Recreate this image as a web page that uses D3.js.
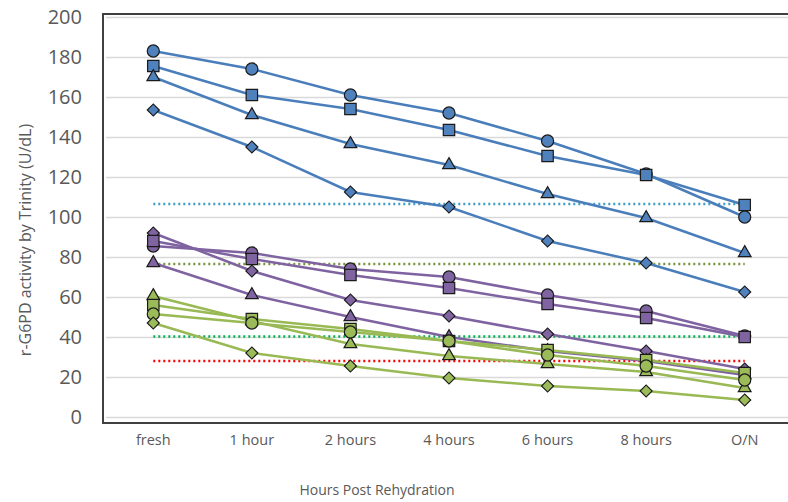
<!DOCTYPE html>
<html>
<head>
<meta charset="utf-8">
<script src="https://cdn.jsdelivr.net/npm/d3@7"></script>
<style>
  body { margin: 0; background: #fff; }
  svg { display: block; font-family: "Open Sans", "Liberation Sans", sans-serif; }
</style>
</head>
<body>
<div id="chart"></div>
<script>
// categories on the x axis
var categories = ["fresh", "1 hour", "2 hours", "4 hours", "6 hours", "8 hours", "O/N"];
var yTicks = [0, 20, 40, 60, 80, 100, 120, 140, 160, 180, 200];

// blue group
var blueCircle   = [183, 174, 161, 152, 138, 121.5, 100];
var blueSquare   = [175.5, 161, 154, 143.5, 130.5, 121, 106];
var blueTriangle = [170, 151, 136.5, 126, 111.5, 99.5, 82];
var blueDiamond  = [153.5, 135, 112.5, 105, 88, 77, 62.5];

// purple group
var purpleDiamond  = [92, 73, 58.5, 50.5, 41.5, 33, 24];
var purpleCircle   = [85.5, 82, 74, 70, 61, 53, 40.5];
var purpleSquare   = [88, 79, 71, 64.5, 56.5, 49.5, 40];
var purpleTriangle = [77, 61, 50, 40, 33, 28, 21];

// green group
var greenTriangle = [60.5, 48, 36.5, 30.5, 26.5, 22.5, 14.5];
var greenSquare   = [56, 49, 44, 38, 33.5, 28.5, 22];
var greenCircle   = [51.5, 47, 42.5, 38, 31, 25.5, 18.5];
var greenDiamond  = [47, 32, 25.5, 19.5, 15.5, 13, 8.5];

// dotted reference levels
var refValues = [106.5, 76.5, 40.3, 28];
var refColors = ["#3f9cc4", "#77933c", "#00b050", "#ff0000"];

var width = 788, height = 502;
var svg = d3.select("#chart").append("svg")
	.attr("width", width)
	.attr("height", height);

//- scales
var x = d3.scaleBand().domain(categories).range([104, 794]);
var y = d3.scaleLinear().domain([0, 200]).range([417, 17]);
var cx = function(c) { return x(c) + x.bandwidth() / 2; };

// gridlines
svg.append("g")
	.attr("transform", "translate(106,0)")
	.call(d3.axisLeft(y).tickValues(yTicks).tickSize(-(width - 106)).tickFormat(""))
	.call(function(g) {
		g.select(".domain").remove();
		g.selectAll("line").attr("stroke", "#d9d9d9").attr("stroke-width", 1.5);
	});

// plot frame
svg.append("rect")
	.attr("x", 103).attr("y", 14)
	.attr("width", 720).attr("height", 409)
	.attr("fill", "none")
	.attr("stroke", "#404040")
	.attr("stroke-width", 2);

// y tick labels
svg.append("g")
	.attr("transform", "translate(82,0)")
	.call(d3.axisLeft(y).tickValues(yTicks).tickSize(0).tickPadding(0))
	.call(function(g) {
		g.select(".domain").remove();
		g.selectAll("text")
			.attr("font-size", 20)
			.attr("fill", "#595959")
			.attr("font-family", "Open Sans, sans-serif");
	});

// x tick labels
svg.append("g")
	.attr("transform", "translate(0,435)")
	.call(d3.axisBottom(x).tickSize(0).tickPadding(0))
	.call(function(g) {
		g.select(".domain").remove();
		g.selectAll("text")
			.attr("font-size", 14.5)
			.attr("fill", "#595959")
			.attr("font-family", "Open Sans, sans-serif");
	});

// axis titles
svg.append("text")
	.attr("x", 377).attr("y", 495)
	.attr("text-anchor", "middle")
	.attr("font-size", 14)
	.attr("fill", "#595959")
	.text("Hours Post Rehydration");

svg.append("text")
	.attr("transform", "translate(31,240) rotate(-90)")
	.attr("text-anchor", "middle")
	.attr("font-size", 16)
	.attr("fill", "#595959")
	.text("r-G6PD activity by Trinity (U/dL)");

// reference dotted lines
refValues.forEach(function(v, i) {
	svg.append("line")
		.attr("x1", cx(categories[0]))
		.attr("x2", cx(categories[categories.length - 1]))
		.attr("y1", y(v)).attr("y2", y(v))
		.attr("stroke", refColors[i])
		.attr("stroke-width", 2.5)
		.attr("stroke-dasharray", "2,3");
});

// series
var series = [
	{ values: blueCircle,     shape: "circle",   line: "#4a7ebb", fill: "#4f81bd" },
	{ values: blueSquare,     shape: "square",   line: "#4a7ebb", fill: "#4f81bd" },
	{ values: blueTriangle,   shape: "triangle", line: "#4a7ebb", fill: "#4f81bd" },
	{ values: blueDiamond,    shape: "diamond",  line: "#4a7ebb", fill: "#4f81bd" },
	{ values: purpleDiamond,  shape: "diamond",  line: "#7f63a1", fill: "#8064a2" },
	{ values: purpleCircle,   shape: "circle",   line: "#7f63a1", fill: "#8064a2" },
	{ values: purpleSquare,   shape: "square",   line: "#7f63a1", fill: "#8064a2" },
	{ values: purpleTriangle, shape: "triangle", line: "#7f63a1", fill: "#8064a2" },
	{ values: greenTriangle,  shape: "triangle", line: "#98b954", fill: "#9bbb59" },
	{ values: greenSquare,    shape: "square",   line: "#98b954", fill: "#9bbb59" },
	{ values: greenCircle,    shape: "circle",   line: "#98b954", fill: "#9bbb59" },
	{ values: greenDiamond,   shape: "diamond",  line: "#98b954", fill: "#9bbb59" }
];

var symbols = {
	circle:   d3.symbol().type(d3.symbolCircle).size(115),
	square:   d3.symbol().type(d3.symbolSquare).size(130),
	triangle: d3.symbol().type(d3.symbolTriangle).size(70),
	diamond:  d3.symbol().type(d3.symbolSquare).size(72)
};

var lineGen = d3.line()
	.x(function(d, i) { return cx(categories[i]); })
	.y(function(d) { return y(d); });

series.forEach(function(s) {
	var g = svg.append("g");
	g.append("path")
		.attr("d", lineGen(s.values))
		.attr("fill", "none")
		.attr("stroke", s.line)
		.attr("stroke-width", 2.5);
	g.selectAll("path.mk").data(s.values).enter().append("path")
		.attr("class", "mk")
		.attr("d", symbols[s.shape])
		.attr("transform", function(d, i) {
			return "translate(" + cx(categories[i]) + "," + y(d) + ")" + (s.shape === "diamond" ? " rotate(45)" : "");
		})
		.attr("fill", s.fill)
		.attr("stroke", "#1a1a1a")
		.attr("stroke-width", 1.2);
});
</script>
</body>
</html>
